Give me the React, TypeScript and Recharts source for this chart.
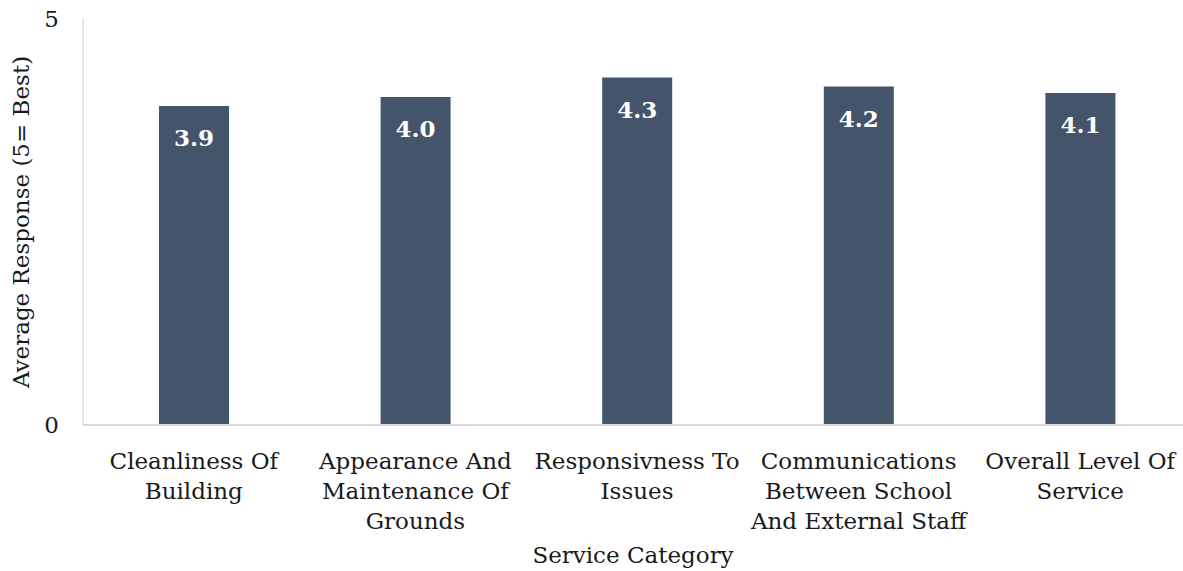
import { Bar, BarChart, LabelList, XAxis, YAxis, Label } from "recharts";

if (typeof document !== "undefined") document.body.style.margin = "0";

const categories = [
  "Cleanliness Of\nBuilding",
  "Appearance And\nMaintenance Of\nGrounds",
  "Responsivness To\nIssues",
  "Communications\nBetween School\nAnd External Staff",
  "Overall Level Of\nService",
];
const averageResponse = [3.93, 4.04, 4.28, 4.17, 4.09];
const yTicks = [0, 5];

const data = categories.map((category, i) => ({ category, value: averageResponse[i] }));

const FONT = "'DejaVu Serif', serif";
const INK = "#1a1a1a";
const BAR = "#44546a";
const AXIS = "#d9d9d9";

function CategoryTick({ x, y, payload }: any) {
  const lines = String(payload.value).split("\n");
  return (
    <text x={x} y={y + 42} textAnchor="middle" fontFamily={FONT} fontSize={23} fill={INK}>
      {lines.map((line, i) => (
        <tspan key={i} x={x} dy={i === 0 ? 0 : 30}>{line}</tspan>
      ))}
    </text>
  );
}

function ValueLabel({ x, y, width, value }: any) {
  return (
    <text x={x + width / 2} y={y + 32} textAnchor="middle" dominantBaseline="central" fontFamily={FONT} fontSize={23} fontWeight="bold" fill="#ffffff">
      {Number(value).toFixed(1)}
    </text>
  );
}

export default function App() {
  return (
    <div style={{ width: 1183, height: 571, overflow: "hidden" }}>
      <BarChart width={1191} height={571} data={data} margin={{ top: 19, right: 0, bottom: 0, left: 0 }} barSize={70}>
        <XAxis dataKey="category" height={146} tick={<CategoryTick />} tickLine={false} tickSize={0} interval={0} axisLine={{ stroke: AXIS, strokeWidth: 2 }}>
          <Label
            content={() => (
              <text x={633} y={555} textAnchor="middle" dominantBaseline="central" fontFamily={FONT} fontSize={23} fill={INK}>Service Category</text>
            )}
          />
        </XAxis>
        <YAxis width={83} domain={[0, 5]} ticks={yTicks} tickLine={false} tickSize={0} tickMargin={24} axisLine={{ stroke: AXIS, strokeWidth: 1.5 }} tick={{ fontFamily: FONT, fontSize: 23, fill: INK }}>
          <Label
            content={() => (
              <text x={21} y={222} transform="rotate(-90 21 222)" textAnchor="middle" dominantBaseline="central" fontFamily={FONT} fontSize={23} fill={INK}>Average Response (5= Best)</text>
            )}
          />
        </YAxis>
        <Bar dataKey="value" fill={BAR} isAnimationActive={false}>
          <LabelList dataKey="value" content={<ValueLabel />} />
        </Bar>
      </BarChart>
    </div>
  );
}
